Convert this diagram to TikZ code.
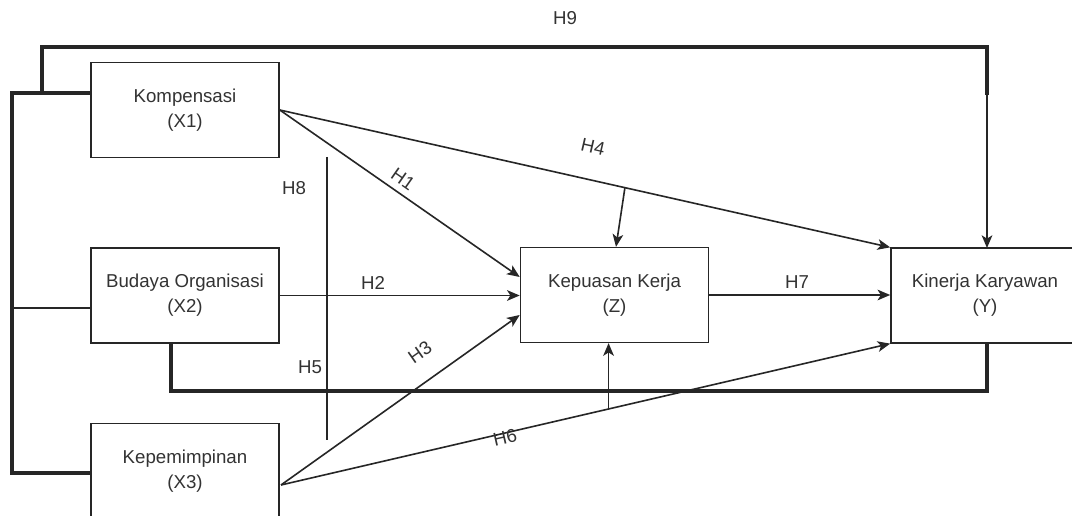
\documentclass[tikz,border=0pt]{standalone}
\usepackage{fontspec}
\setmainfont{Liberation Sans}
\usetikzlibrary{arrows.meta,calc}
\definecolor{txt}{HTML}{333333}
\definecolor{ln}{HTML}{262626}
\begin{document}
\begin{tikzpicture}[x=0.75pt,y=-0.75pt,
  box/.style={draw=ln, line width=1.2pt, minimum width=141pt, minimum height=71pt,
    inner sep=0pt, align=center, font=\fontsize{14}{18.8}\selectfont, text=txt},
  lbl/.style={font=\fontsize{14}{16}\selectfont, text=txt, inner sep=0pt},
  thinln/.style={line width=1.2pt, draw=ln},
  thickln/.style={line width=2.4pt, draw=ln},
  arr/.style={thinln, -{Stealth[length=9.5pt,width=8pt,inset=2.5pt]}}]
\clip (0,0) rectangle (1072,516);
\fill[white] (0,0) rectangle (1072,516);

% boxes
\node[box] (X1) at (185,110) {Kompensasi\\(X1)};
\node[box] (X2) at (185,295.5) {Budaya Organisasi\\(X2)};
\node[box] (X3) at (185,471) {Kepemimpinan\\(X3)};
\node[box] (Z) at (614.5,295) {Kepuasan Kerja\\(Z)};
\node[box] (Y) at (985,295.5) {Kinerja Karyawan\\(Y)};

% helper coordinates
\coordinate (x1l) at (91,93);
\coordinate (x2l) at (91,308);
\coordinate (x3l) at (91,473);
\coordinate (h9a) at (42,93);
\coordinate (h9b) at (987,47);
\coordinate (h9c) at (987,95);
\coordinate (ytop) at (987,248);
\coordinate (x2b) at (171,343);
\coordinate (yb) at (987,343);
\coordinate (x3o) at (281,485);
\coordinate (h8t) at (327,157);
\coordinate (h8b) at (327,440);

% left bus and H9
\draw[thickln] (x1l) -- ++(-79,0) |- (x3l);
\draw[thinln] (x2l) -- ++(-79,0);
\draw[thickln] (h9a) |- (h9b) -- (h9c);
\draw[arr] (h9c) -- (ytop);

% H5 bus
\draw[thickln] (x2b) -- ++(0,48) -| (yb);

% H8 line
\draw[thinln] (h8t) -- (h8b);

% direct paths
\draw[arr] (X1.east) -- ($(Z.west)+(0,-18)$);
\draw[arr] (X1.east) -- (Y.north west);
\draw[arr] (X2.east) -- (X2.east -| Z.west);
\draw[arr] (x3o) -- ($(Z.west)+(0,20)$);
\draw[arr] (x3o) -- (Y.south west);
\draw[arr] (Z.east) -- (Z.east -| Y.west);

% moderation arrows
\coordinate (m4) at ($(X1.east)!0.5654!(Y.north west)$);
\draw[arr] (m4) -- ($(Z.north)+(1.5,0)$);
\coordinate (m6) at ($(x3o)!0.5377!(Y.south west)$);
\draw[arr] (m6) -- (m6 |- Z.south);

% labels
\node[lbl] (lH9) at (565,18) {H9};
\node[lbl] (lH8) at (294,188) {H8};
\node[lbl, rotate=-35] (lH1) at (403,179) {H1};
\node[lbl, rotate=-13] (lH4) at (593,147) {H4};
\node[lbl] (lH2) at (373,283) {H2};
\node[lbl] (lH7) at (797,282) {H7};
\node[lbl] (lH5) at (310,367) {H5};
\node[lbl, rotate=35] (lH3) at (420,352) {H3};
\node[lbl, rotate=13] (lH6) at (505,438) {H6};
\end{tikzpicture}
\end{document}
